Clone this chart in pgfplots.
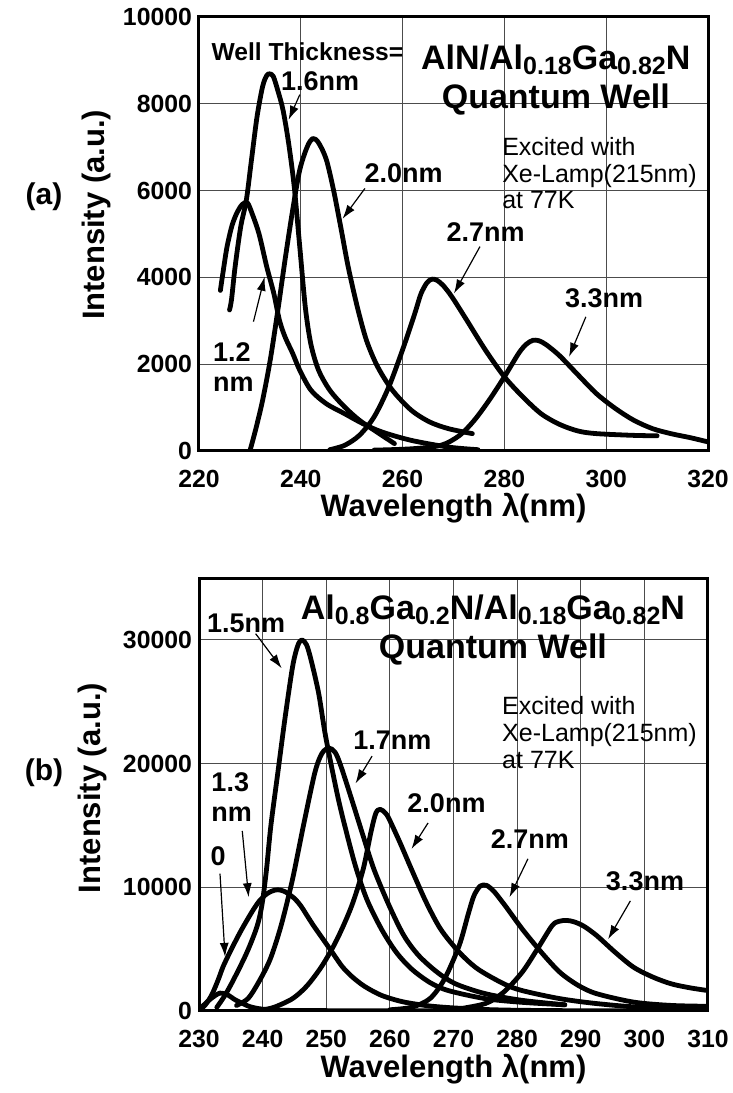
\documentclass[border=0pt]{standalone}
\usepackage{fontspec}
\setmainfont{Liberation Sans}
\usepackage{pgfplots}
\pgfplotsset{compat=1.18}
\usetikzlibrary{arrows.meta}
\newcommand{\fs}[1]{\fontsize{#1}{#1}\selectfont}
\newcommand{\sub}[1]{\raisebox{-2.6pt}{\fs{12.5}#1}}
\tikzset{
  lab/.style={font=\bfseries\fs{13.5}},
  arr/.style={-{Latex[length=7pt,width=4.5pt]}, line width=0.6pt},
}
\pgfplotsset{myax/.style={
  scale only axis, width=254.5pt, anchor=south west,
  axis line style={line width=1.5pt},
  grid=major, major grid style={line width=0.5pt, black!70},
  major tick length=0pt,
  tick label style={font=\bfseries\fs{12.4}},
  xticklabel style={yshift=-6pt},
  /pgf/number format/assume math mode=true,
  scaled ticks=false,
  /pgf/number format/1000 sep={},
  label style={font=\bfseries\fs{15.5}},
  cycle list={black,mark=none,line width=2.4pt,smooth,line join=round,line cap=round\\},
}}
\begin{document}
\begin{tikzpicture}
\useasboundingbox (0,0) rectangle (366.5pt,546.5pt);
\node[font=\bfseries\fs{15}] at (22pt,448pt) {(a)};
\node[font=\bfseries\fs{15}] at (22pt,160pt) {(b)};
% ---------------- panel (a)
\begin{axis}[myax, at={(99.5pt,321pt)}, height=217pt,
  xmin=220, xmax=320, ymin=0, ymax=10000,
  xtick={220,240,...,320}, ytick={0,2000,...,10000},
  xlabel={Wavelength λ(nm)}, ylabel={Intensity (a.u.)},
  xlabel style={at={(axis description cs:0.5,-0.131)}, anchor=center},
  ylabel style={at={(axis description cs:-0.202,0.544)}, anchor=center},
]
\addplot coordinates {(224.2,3700)(224.7,4100)(225.5,4700)(226.5,5200)(227.5,5500)(228.5,5680)(229.5,5720)(230.5,5450)(231.8,5000)(233.3,4250)(234.7,3630)(235.8,3015)(236.9,2630)(238.4,2250)(239.8,1860)(242,1400)(245,1090)(248.6,860)(252.2,630)(255.9,440)(261.7,245)(269,90)(274.8,30)};
\addplot coordinates {(226,3250)(226.4,3500)(227.1,4250)(228.2,5170)(229.3,5780)(230.3,6700)(231.4,7700)(232.5,8400)(233.3,8650)(233.9,8690)(234.6,8630)(235.5,8300)(236.5,7860)(237.6,7100)(238.7,6100)(239.8,4700)(240.9,3300)(242,2450)(243.5,1860)(245.7,1400)(248.6,1015)(251.5,710)(254.4,480)(258.4,170)};
\addplot coordinates {(230,0)(231.1,480)(232.5,1170)(234,2100)(235.5,3250)(236.9,4400)(238.4,5550)(239.8,6480)(241.3,7020)(242.4,7200)(243.5,7100)(245,6720)(246.4,6030)(247.8,5190)(249.3,4250)(251.1,3320)(252.9,2550)(255.1,1940)(258,1400)(261.7,940)(265.3,670)(269,515)(273.7,400)};
\addplot coordinates {(245.7,30)(248.6,130)(251.5,360)(254.4,785)(257.3,1480)(260.2,2400)(262.4,3170)(263.6,3620)(264.8,3880)(265.8,3960)(266.8,3930)(268,3810)(269.7,3550)(272.6,3015)(276.3,2320)(280,1710)(283.6,1250)(287.2,860)(290.8,615)(294.5,460)(298.1,400)(305.4,360)(310,350)};
\addplot coordinates {(254.4,20)(261.7,50)(267.5,130)(271.2,360)(274.1,710)(277,1170)(280,1710)(282.8,2250)(284.3,2460)(285.6,2550)(286.8,2540)(288.2,2450)(290.8,2200)(294.5,1750)(298.1,1320)(301.8,980)(305.4,710)(309.1,515)(312.7,400)(316.4,310)(320,210)};
\node[font=\bfseries\fs{12.3}] at (axis cs:241.3,9210) {Well Thickness=};
\node[font=\bfseries\fs{17}] at (axis cs:290.1,9015) {AlN/Al\sub{0.18}Ga\sub{0.82}N};
\node[font=\bfseries\fs{17}] at (axis cs:290.1,8090) {Quantum Well};
\node[font=\fs{12.5}, align=left, anchor=west, inner sep=0pt, execute at begin node=\setlength{\baselineskip}{13.4pt}] at (axis cs:279.5,6400) {Excited with\\Xe-Lamp(215nm)\\at 77K};
\node[lab] at (axis cs:243.8,8515) {1.6nm};
\draw[arr] (axis cs:239.8,8210) -- (axis cs:237.6,7630);
\node[lab] at (axis cs:260.2,6400) {2.0nm};
\draw[arr] (axis cs:252.6,6050) -- (axis cs:248.2,5350);
\node[lab] at (axis cs:276.3,5050) {2.7nm};
\draw[arr] (axis cs:275.2,4710) -- (axis cs:270.1,3630);
\node[lab] at (axis cs:299.6,3515) {3.3nm};
\draw[arr] (axis cs:296,3090) -- (axis cs:292.7,2170);
\node[lab, align=left, anchor=west, inner sep=0pt, execute at begin node=\setlength{\baselineskip}{15pt}] at (axis cs:222.7,1940) {1.2\\nm};
\draw[arr] (axis cs:230.7,2980) -- (axis cs:232.9,4015);
\end{axis}
% ---------------- panel (b)
\begin{axis}[myax, at={(99.5pt,41pt)}, height=216.5pt,
  xmin=230, xmax=310, ymin=0, ymax=35000,
  xtick={230,240,...,310}, ytick={0,10000,20000,30000},
  xlabel={Wavelength λ(nm)}, ylabel={Intensity (a.u.)},
  xlabel style={at={(axis description cs:0.5,-0.134)}, anchor=center},
  ylabel style={at={(axis description cs:-0.21,0.515)}, anchor=center},
]
\addplot coordinates {(230,100)(231,600)(232,1050)(233.3,1450)(234.5,1300)(235.7,900)(236.9,600)(238,350)(240,150)(244,50)(260,20)(310,30)};
\addplot coordinates {(230,0)(231,500)(232,1300)(233,2500)(233.8,3600)(235,4900)(236.4,6300)(237.5,7300)(238.5,8160)(239.5,8900)(240.6,9450)(241.5,9700)(242.4,9800)(243.5,9650)(245,9100)(246,8500)(247,7700)(248,6900)(249.5,5800)(251,4700)(252.5,3600)(254,2800)(256,2000)(258.7,1260)(262,750)(266,420)(270,250)(275,120)(280,60)(287,30)};
\addplot coordinates {(232.8,300)(234,1200)(235.4,2500)(237.5,4700)(239.1,6800)(239.9,8600)(240.6,11400)(241.3,15000)(242.4,19300)(243.5,23600)(244.7,27800)(245.5,29500)(246.15,30000)(246.9,29600)(247.6,28400)(248.8,25700)(249.9,22200)(251.7,17600)(252.9,15000)(254.6,11700)(256.4,9000)(258.7,6600)(261,4750)(263.4,3400)(266.3,2300)(269.2,1650)(275,1000)(280.8,700)(287.5,500)};
\addplot coordinates {(235.9,450)(237.7,1000)(239.4,2350)(241.2,4200)(242.9,6900)(244.7,10650)(246.4,14950)(248.2,19250)(249.3,20800)(250.4,21260)(251.4,20900)(252.3,19800)(254,17100)(255.8,14150)(257.5,11450)(259.9,8500)(262.2,6100)(264.5,4500)(267.4,3150)(270.3,2200)(275,1400)(280.8,860)(287.5,500)};
\addplot coordinates {(240,100)(241.8,300)(244.7,1000)(247,2050)(249.4,3700)(251.7,5800)(254,8500)(255.8,11450)(257,14400)(257.8,16000)(258.5,16300)(259.3,16000)(259.9,15500)(261.6,13600)(263.4,11450)(265.7,8800)(268,6600)(270.9,4750)(273.8,3400)(277.9,2200)(280.8,1650)(286.7,1000)(292.5,600)(299.5,300)(310,150)};
\addplot coordinates {(260,100)(263.4,300)(266.3,1000)(268.6,2600)(270.9,5300)(272.3,7800)(273.2,9300)(274.2,10100)(275.2,10150)(276.3,9700)(277.4,9000)(278.5,8250)(280.8,6630)(283.8,4750)(286.7,3140)(289.6,2070)(292.5,1400)(298.3,720)(304.2,450)(310,380)};
\addplot coordinates {(270,100)(275,600)(277.9,1530)(280.8,3140)(283.2,5020)(285.5,6900)(286.6,7250)(287.8,7320)(289,7200)(290.5,6850)(292.5,6100)(295.4,4750)(298.3,3540)(301.3,2750)(304.2,2200)(307.1,1880)(310,1650)};
\node[font=\bfseries\fs{17}] at (axis cs:276.2,32400) {Al\sub{0.8}Ga\sub{0.2}N/Al\sub{0.18}Ga\sub{0.82}N};
\node[font=\bfseries\fs{17}] at (axis cs:276.2,29200) {Quantum Well};
\node[font=\fs{12.5}, align=left, anchor=west, inner sep=0pt, execute at begin node=\setlength{\baselineskip}{13.4pt}] at (axis cs:277.6,22500) {Excited with\\Xe-Lamp(215nm)\\at 77K};
\node[lab] at (axis cs:237.4,31300) {1.5nm};
\draw[arr] (axis cs:238.9,30500) -- (axis cs:243,27700);
\node[lab] at (axis cs:260.4,21900) {1.7nm};
\draw[arr] (axis cs:257.2,20600) -- (axis cs:254.6,18400);
\node[lab] at (axis cs:268.9,16800) {2.0nm};
\draw[arr] (axis cs:266,15200) -- (axis cs:263.4,13100);
\node[lab] at (axis cs:282,13900) {2.7nm};
\draw[arr] (axis cs:281.7,12300) -- (axis cs:278.8,9200);
\node[lab] at (axis cs:300.1,10500) {3.3nm};
\draw[arr] (axis cs:297.8,8900) -- (axis cs:294.3,5800);
\node[lab, align=left, anchor=west, inner sep=0pt, execute at begin node=\setlength{\baselineskip}{15pt}] at (axis cs:231.9,17300) {1.3\\nm};
\draw[arr] (axis cs:236.8,14550) -- (axis cs:237.8,9200);
\node[lab] at (axis cs:233,12500) {0};
\draw[arr] (axis cs:233.3,11100) -- (axis cs:234.1,4370);
\end{axis}
\end{tikzpicture}
\end{document}
